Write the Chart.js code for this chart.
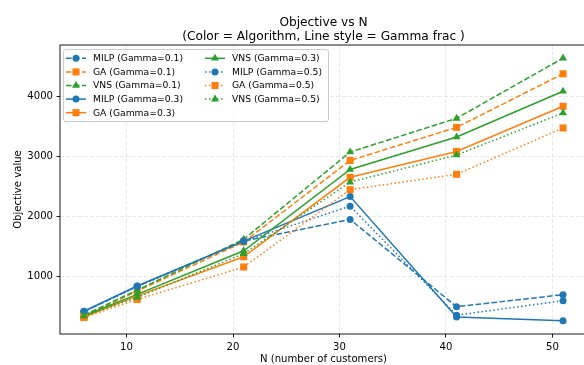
<!DOCTYPE html>
<html>
<head>
<meta charset="utf-8">
<title>Objective vs N</title>
<script src="https://cdn.jsdelivr.net/npm/chart.js@4/dist/chart.umd.min.js"></script>
<style>
  html, body { margin: 0; padding: 0; overflow: hidden; background: #ffffff; }
  #wrap { width: 592px; height: 365px; }
</style>
</head>
<body>
<div id="wrap"><canvas id="chart" width="592" height="365"></canvas></div>
<script>
// Problem sizes (number of customers)
const nCustomers = [6, 11, 21, 31, 41, 51];

// Objective values per algorithm and Gamma fraction
const milpGamma01 = [420, 840, 1590, 1950, 500, 700];
const gaGamma01   = [335, 760, 1575, 2930, 3480, 4370];
const vnsGamma01  = [360, 775, 1620, 3070, 3630, 4630];
const milpGamma03 = [425, 845, 1590, 2330, 330, 265];
const gaGamma03   = [330, 680, 1330, 2650, 3080, 3830];
const vnsGamma03  = [350, 705, 1430, 2780, 3320, 4080];
const milpGamma05 = [420, 835, 1585, 2170, 360, 600];
const gaGamma05   = [320, 620, 1160, 2445, 2700, 3470];
const vnsGamma05  = [345, 655, 1380, 2570, 3020, 3720];

const xTickValues = [10, 20, 30, 40, 50];
const yTickValues = [1000, 2000, 3000, 4000];

const seriesLabels = [
  'MILP (Gamma=0.1)', 'GA (Gamma=0.1)', 'VNS (Gamma=0.1)',
  'MILP (Gamma=0.3)', 'GA (Gamma=0.3)', 'VNS (Gamma=0.3)',
  'MILP (Gamma=0.5)', 'GA (Gamma=0.5)', 'VNS (Gamma=0.5)'
];
const seriesValues = [
  milpGamma01, gaGamma01, vnsGamma01,
  milpGamma03, gaGamma03, vnsGamma03,
  milpGamma05, gaGamma05, vnsGamma05
];

// Styling: colour + marker per algorithm, dash pattern per Gamma fraction
const algoStyle = {
  MILP: { color: '#1f77b4', pointStyle: 'circle',   radius: 3.5 },
  GA:   { color: '#ff7f0e', pointStyle: 'rect',     radius: 5.0 },
  VNS:  { color: '#2ca02c', pointStyle: 'triangle', radius: 4.6 }
};
const gammaDash = { '0.1': [5.6, 2.4], '0.3': [], '0.5': [1.5, 2.5] };

const FONT = 'DejaVu Sans';

const datasets = seriesLabels.map((label, i) => {
  const algo = label.split(' ')[0];
  const gamma = label.match(/Gamma=([\d.]+)/)[1];
  const st = algoStyle[algo];
  return {
    label: label,
    data: nCustomers.map((n, k) => ({ x: n, y: seriesValues[i][k] })),
    borderColor: st.color,
    backgroundColor: st.color,
    borderWidth: 1.5,
    borderDash: gammaDash[gamma],
    borderCapStyle: 'butt',
    pointStyle: st.pointStyle,
    pointRadius: st.radius,
    pointHoverRadius: st.radius,
    pointBackgroundColor: st.color,
    pointBorderColor: st.color,
    pointBorderWidth: 0,
    tension: 0,
    fill: false,
    order: seriesLabels.length - 1 - i
  };
});

// Axis limits with 5% padding around the data
const allY = seriesValues.flat();
const yLo = Math.min(...allY), yHi = Math.max(...allY);
const yPad = (yHi - yLo) * 0.05;
const xLo = Math.min(...nCustomers), xHi = Math.max(...nCustomers);
const xPad = (xHi - xLo) * 0.05;

function markerPath(ctx, style, x, y, r) {
  ctx.beginPath();
  if (style === 'circle') {
    ctx.arc(x, y, r, 0, Math.PI * 2);
  } else if (style === 'rect') {
    const s = r * Math.SQRT1_2;
    ctx.rect(x - s, y - s, 2 * s, 2 * s);
  } else {
    let a = 0;
    ctx.moveTo(x + Math.sin(a) * r, y - Math.cos(a) * r);
    a += 2 * Math.PI / 3;
    ctx.lineTo(x + Math.sin(a) * r, y - Math.cos(a) * r);
    a += 2 * Math.PI / 3;
    ctx.lineTo(x + Math.sin(a) * r, y - Math.cos(a) * r);
    ctx.closePath();
  }
}

// Frame, titles and the two-column legend
const decorations = {
  id: 'decorations',
  afterDraw(chart) {
    const ctx = chart.ctx;
    const a = chart.chartArea;
    ctx.save();

    // axes frame
    ctx.setLineDash([]);
    ctx.strokeStyle = '#000000';
    ctx.lineWidth = 0.9;
    ctx.strokeRect(a.left, a.top, a.right - a.left, a.bottom - a.top);

    // titles
    const cx = (a.left + a.right) / 2;
    ctx.fillStyle = '#000000';
    ctx.textAlign = 'center';
    ctx.textBaseline = 'alphabetic';
    ctx.font = '12.2px "' + FONT + '"';
    ctx.fillText('Objective vs N', cx, 26);
    ctx.fillText('(Color = Algorithm, Line style = Gamma frac )', cx, 40);

    ctx.font = '10.1px "' + FONT + '"';
    ctx.fillText('N (number of customers)', cx, 362);
    ctx.save();
    ctx.translate(20.5, (a.top + a.bottom) / 2);
    ctx.rotate(-Math.PI / 2);
    ctx.fillText('Objective value', 0, 0);
    ctx.restore();

    // legend box
    const bx = 63.5, by = 49.5, bw = 265, bh = 72, rr = 2.5;
    ctx.beginPath();
    ctx.moveTo(bx + rr, by);
    ctx.lineTo(bx + bw - rr, by);
    ctx.quadraticCurveTo(bx + bw, by, bx + bw, by + rr);
    ctx.lineTo(bx + bw, by + bh - rr);
    ctx.quadraticCurveTo(bx + bw, by + bh, bx + bw - rr, by + bh);
    ctx.lineTo(bx + rr, by + bh);
    ctx.quadraticCurveTo(bx, by + bh, bx, by + bh - rr);
    ctx.lineTo(bx, by + rr);
    ctx.quadraticCurveTo(bx, by, bx + rr, by);
    ctx.closePath();
    ctx.fillStyle = 'rgba(255,255,255,0.8)';
    ctx.fill();
    ctx.strokeStyle = '#cccccc';
    ctx.lineWidth = 1;
    ctx.stroke();

    ctx.font = '9.2px "' + FONT + '"';
    ctx.textAlign = 'left';
    ctx.textBaseline = 'middle';
    chart.data.datasets.forEach((ds, i) => {
      const col = Math.floor(i / 5), row = i % 5;
      const x0 = col === 0 ? 66 : 205;
      const y = 58.3 + row * 13.6;
      ctx.strokeStyle = ds.borderColor;
      ctx.lineWidth = 1.5;
      ctx.lineCap = 'butt';
      ctx.setLineDash(ds.borderDash);
      ctx.beginPath();
      ctx.moveTo(x0, y);
      ctx.lineTo(x0 + 20, y);
      ctx.stroke();
      ctx.setLineDash([]);
      ctx.fillStyle = ds.borderColor;
      markerPath(ctx, ds.pointStyle, x0 + 10, y, ds.pointRadius);
      ctx.fill();
      ctx.fillStyle = '#000000';
      ctx.fillText(ds.label, x0 + 27, y + 0.5);
    });
    ctx.restore();
  }
};

const gridColor = 'rgba(176,176,176,0.35)';

new Chart(document.getElementById('chart'), {
  type: 'line',
  data: { datasets: datasets },
  options: {
    responsive: false,
    animation: false,
    devicePixelRatio: 1,
    layout: { padding: { top: 45, right: 1, bottom: 0, left: 0 } },
    plugins: {
      legend: { display: false },
      tooltip: { enabled: false },
      title: { display: false }
    },
    scales: {
      x: {
        type: 'linear',
        min: xLo - xPad,
        max: xHi + xPad,
        afterBuildTicks: s => { s.ticks = xTickValues.map(v => ({ value: v })); },
        afterFit: s => { s.height = 31; },
        grid: {
          color: gridColor,
          lineWidth: 0.8,
          tickColor: '#000000',
          tickLength: 3.5,
          tickWidth: 0.9,
          tickBorderDash: []
        },
        border: { display: false, dash: [4, 2] },
        ticks: {
          color: '#000000',
          padding: 3.5,
          maxRotation: 0,
          font: { family: FONT, size: 10.1 },
          callback: v => String(v)
        }
      },
      y: {
        type: 'linear',
        min: yLo - yPad,
        max: yHi + yPad,
        afterBuildTicks: s => { s.ticks = yTickValues.map(v => ({ value: v })); },
        afterFit: s => { s.width = 60; },
        grid: {
          color: gridColor,
          lineWidth: 0.8,
          tickColor: '#000000',
          tickLength: 3.5,
          tickWidth: 0.9,
          tickBorderDash: []
        },
        border: { display: false, dash: [4, 2] },
        ticks: {
          color: '#000000',
          padding: 3.5,
          font: { family: FONT, size: 10.1 },
          callback: v => String(v)
        }
      }
    }
  },
  plugins: [decorations]
});
</script>
</body>
</html>
